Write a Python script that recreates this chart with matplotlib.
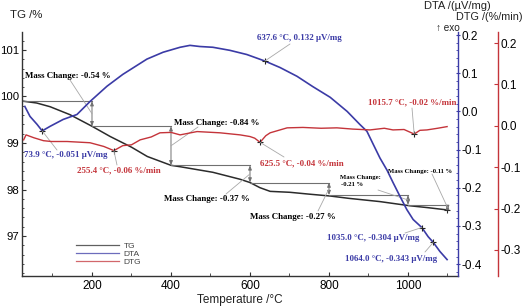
import matplotlib
matplotlib.use('Agg')
import matplotlib.pyplot as plt
from matplotlib.ticker import MultipleLocator, FormatStrFormatter

plt.rcParams['axes.unicode_minus'] = False
plt.rcParams['font.family'] = ['Liberation Sans', 'DejaVu Sans']

W, H, DPI = 527, 308, 100

# ---------------- data ----------------
tg_T = [25, 60, 94, 144, 200, 246, 300, 340, 400, 423, 506, 575, 600, 625, 651,
        701, 750, 803, 850, 929, 1005, 1050, 1100]
tg_V = [99.90, 99.86, 99.78, 99.61, 99.36, 99.14, 98.91, 98.71, 98.52, 98.49,
        98.37, 98.22, 98.15, 98.04, 97.96, 97.94, 97.90, 97.86, 97.81, 97.74,
        97.65, 97.61, 97.56]

dta_T = [30, 43, 61, 73.9, 94, 127, 162, 195, 238, 278, 339, 380, 423, 448, 473,
         506, 549, 592, 637.6, 676, 719, 759, 803, 846, 878, 896, 911, 929, 947,
         962, 980, 997, 1013, 1035.0, 1051, 1064.0, 1081, 1099]
dta_V = [0.013, -0.013, -0.034, -0.051, -0.039, -0.021, -0.008, 0.026, 0.066,
         0.097, 0.137, 0.155, 0.168, 0.173, 0.170, 0.168, 0.160, 0.149, 0.132,
         0.115, 0.092, 0.065, 0.037, 0.000, -0.034, -0.052, -0.084, -0.122,
         -0.154, -0.186, -0.223, -0.257, -0.283, -0.304, -0.328, -0.343, -0.367,
         -0.388]

dtg_T = [27, 33, 53, 77, 97, 137, 195, 230, 255.4, 278, 300, 322, 350, 372, 400,
         423, 466, 524, 575, 600, 612, 625.5, 640, 651, 694, 734, 780, 820,
         860, 904, 940, 962, 990, 1015.7, 1030, 1048, 1075, 1099]
dtg_V = [-0.034, -0.022, -0.029, -0.036, -0.038, -0.038, -0.041, -0.050, -0.06,
         -0.048, -0.046, -0.034, -0.027, -0.017, -0.016, -0.022, -0.014, -0.017,
         -0.022, -0.026, -0.030, -0.04, -0.024, -0.017, -0.005, -0.004, -0.006,
         -0.005, -0.008, -0.010, -0.006, -0.010, -0.009, -0.02, -0.011, -0.010,
         -0.006, -0.002]

step_T = [25, 200, 400, 600, 800, 1000, 1100]
step_TG = [99.90, 99.36, 98.52, 98.15, 97.88, 97.67, 97.56]
mass_change = ['-0.54', '-0.84', '-0.37', '-0.27', '-0.21', '-0.11']

dta_peak_T = [73.9, 637.6, 1035.0, 1064.0]
dta_peak_V = [-0.051, 0.132, -0.304, -0.343]
dtg_peak_T = [255.4, 625.5, 1015.7]
dtg_peak_V = [-0.06, -0.04, -0.02]

# ---------------- styles ----------------
C_TG = '#2b2b2b'
C_DTA = '#3b3ba6'
C_DTG = '#c4343a'
C_LEAD = '#a8a8a8'
C_BR = '#707070'
SERIF = ['Liberation Serif', 'DejaVu Serif']

fig = plt.figure(figsize=(W / DPI, H / DPI), dpi=DPI)
ax = fig.add_axes([22 / W, 1 - 276 / H, (458 - 22) / W, (276 - 32) / H])
ax2 = ax.twinx()
ax3 = ax.twinx()

ax.set_xlim(22.8, 1126.6)
ax.set_ylim(96.14, 101.387)
ax2.set_ylim(-0.431, 0.208)
ax3.set_ylim(-0.363, 0.2266)

for s in ['top', 'right']:
    ax.spines[s].set_visible(False)
for a in (ax2, ax3):
    for s in ['top', 'left', 'bottom']:
        a.spines[s].set_visible(False)
ax2.spines['right'].set_color(C_DTA)
ax3.spines['right'].set_color(C_DTG)
ax3.spines['right'].set_position(('outward', 40 * 72 / DPI))
ax.spines['left'].set_color('#333333')
ax.spines['bottom'].set_color('#333333')
for a in (ax, ax2, ax3):
    for sp in a.spines.values():
        sp.set_linewidth(1.0)

ax.set_xticks([200, 400, 600, 800, 1000])
ax.xaxis.set_minor_locator(MultipleLocator(100))
ax.set_yticks([97, 98, 99, 100, 101])
ax.yaxis.set_minor_locator(MultipleLocator(0.2))
ax.tick_params(axis='x', direction='in', length=3, labelsize=8.5, pad=3, color='#333333')
ax.tick_params(axis='x', which='minor', direction='in', length=2, color='#333333')
ax.tick_params(axis='y', direction='in', length=3, labelsize=8.2, pad=2, color='#333333')
ax.tick_params(axis='y', which='minor', direction='in', length=1.5, color='#333333')

ax2.set_yticks([-0.4, -0.3, -0.2, -0.1, 0.0, 0.1, 0.2])
ax2.yaxis.set_major_formatter(FormatStrFormatter('%.1f'))
ax2.yaxis.set_minor_locator(MultipleLocator(0.02))
ax2.tick_params(axis='y', direction='inout', length=3, labelsize=8.5, pad=1,
                color=C_DTA)
ax2.tick_params(axis='y', which='minor', direction='in', length=1.5, color=C_DTA)

ax3.set_yticks([-0.3, -0.2, -0.1, 0.0, 0.1, 0.2])
ax3.yaxis.set_major_formatter(FormatStrFormatter('%.1f'))
ax3.tick_params(axis='y', direction='in', length=3, labelsize=8.5, pad=2,
                color=C_DTG)

# ---------------- curves ----------------
l_tg, = ax.plot(tg_T, tg_V, color=C_TG, lw=1.1, label='TG')
l_dta, = ax2.plot(dta_T, dta_V, color=C_DTA, lw=1.2, label='DTA')
l_dtg, = ax3.plot(dtg_T, dtg_V, color=C_DTG, lw=1.0, label='DTG')

# ---------------- mass change brackets ----------------
for i in range(len(step_T) - 1):
    ax.plot([step_T[i], step_T[i + 1]], [step_TG[i], step_TG[i]], color=C_BR, lw=0.8)
    ax.annotate('', xy=(step_T[i + 1], step_TG[i + 1]), xytext=(step_T[i + 1], step_TG[i]),
                arrowprops=dict(arrowstyle='<|-|>,head_length=0.25,head_width=0.1',
                                color=C_BR, lw=0.7, shrinkA=0, shrinkB=0))
ax.plot([step_T[-1]], [step_TG[-1]], marker='+', color=C_TG, ms=4, mew=0.8)

# peak markers
ax2.plot(dta_peak_T, dta_peak_V, ls='none', marker='+', color='#222222', ms=4, mew=0.8)
ax3.plot(dtg_peak_T, dtg_peak_V, ls='none', marker='+', color='#222222', ms=4, mew=0.8)


def ftext(x, y, s, color='black', size=6.4, ha='left'):
    fig.text(x / W, 1 - y / H, s, color=color, fontsize=size, fontweight='bold',
             family=SERIF, ha=ha, va='center')


def lead(axis, xy, px):
    axis.annotate('', xy=xy, xycoords='data', xytext=(px[0], H - px[1]),
                  textcoords='figure pixels',
                  arrowprops=dict(arrowstyle='-', color=C_LEAD, lw=0.6,
                                  shrinkA=0, shrinkB=0))


def mid(i):
    return (step_T[i + 1], (step_TG[i] + step_TG[i + 1]) / 2)


# mass change labels
ftext(25, 76, 'Mass Change: %s %%' % mass_change[0])
lead(ax, mid(0), (70, 80))
ftext(174, 123, 'Mass Change: %s %%' % mass_change[1])
lead(ax, mid(1), (198, 127))
ftext(164, 199, 'Mass Change: %s %%' % mass_change[2])
lead(ax, mid(2), (226, 194))
ftext(250, 217, 'Mass Change: %s %%' % mass_change[3])
lead(ax, mid(3), (318, 211))
ftext(340, 177, 'Mass Change:', size=4.8)
ftext(341, 185, '%s %%' % mass_change[4], size=4.8)
lead(ax, mid(4), (378, 190))
ftext(388, 171, 'Mass Change: %s %%' % mass_change[5], size=4.8)
lead(ax, mid(5), (432, 174))

# DTA labels
ftext(24, 155, '%.1f °C, %.3f µV/mg' % (dta_peak_T[0], dta_peak_V[0]), color=C_DTA)
lead(ax2, (dta_peak_T[0], dta_peak_V[0]), (57, 150))
ftext(257, 38, '%.1f °C, %.3f µV/mg' % (dta_peak_T[1], dta_peak_V[1]), color=C_DTA)
lead(ax2, (dta_peak_T[1], dta_peak_V[1]), (290, 44))
ftext(327, 238, '%.1f °C, %.3f µV/mg' % (dta_peak_T[2], dta_peak_V[2]), color=C_DTA)
lead(ax2, (dta_peak_T[2], dta_peak_V[2]), (405, 233))
ftext(345, 259, '%.1f °C, %.3f µV/mg' % (dta_peak_T[3], dta_peak_V[3]), color=C_DTA)
lead(ax2, (dta_peak_T[3], dta_peak_V[3]), (425, 252))

# DTG labels
ftext(77, 170, '%.1f °C, %.2f %%/min' % (dtg_peak_T[0], dtg_peak_V[0]), color=C_DTG)
lead(ax3, (dtg_peak_T[0], dtg_peak_V[0]), (117, 165))
ftext(368, 102, '%.1f °C, %.2f %%/min' % (dtg_peak_T[2], dtg_peak_V[2]), color=C_DTG)
lead(ax3, (dtg_peak_T[2], dtg_peak_V[2]), (412, 108))
ftext(260, 163, '%.1f °C, %.2f %%/min' % (dtg_peak_T[1], dtg_peak_V[1]), color=C_DTG)
lead(ax3, (dtg_peak_T[1], dtg_peak_V[1]), (284, 157))

# axis titles
fig.text(10 / W, 1 - 15 / H, 'TG /%', fontsize=8.2, color='#222222', ha='left', va='center')
fig.text(424 / W, 1 - 6 / H, 'DTA /(µV/mg)', fontsize=8.0, color='#222222', ha='left', va='center')
fig.text(522 / W, 1 - 17 / H, 'DTG /(%/min)', fontsize=7.8, color='#222222', ha='right', va='center')
fig.text(436 / W, 1 - 28 / H, '↑ exo', fontsize=7.2, color='#222222', ha='left', va='center')
ax.set_xlabel('Temperature /°C', fontsize=8.5, color='#222222', labelpad=1)

# legend
leg = fig.legend([l_tg, l_dta, l_dtg], ['TG', 'DTA', 'DTG'], loc='upper left',
                 bbox_to_anchor=(76 / W, 1 - 242 / H), bbox_transform=fig.transFigure,
                 frameon=False, fontsize=6, handlelength=5.2, handletextpad=0.5,
                 labelspacing=0.05, borderpad=0, borderaxespad=0, labelcolor='#444444')
for ln in leg.get_lines():
    ln.set_linewidth(0.9)
    ln.set_alpha(0.75)

fig.savefig('out.png', dpi=DPI)
